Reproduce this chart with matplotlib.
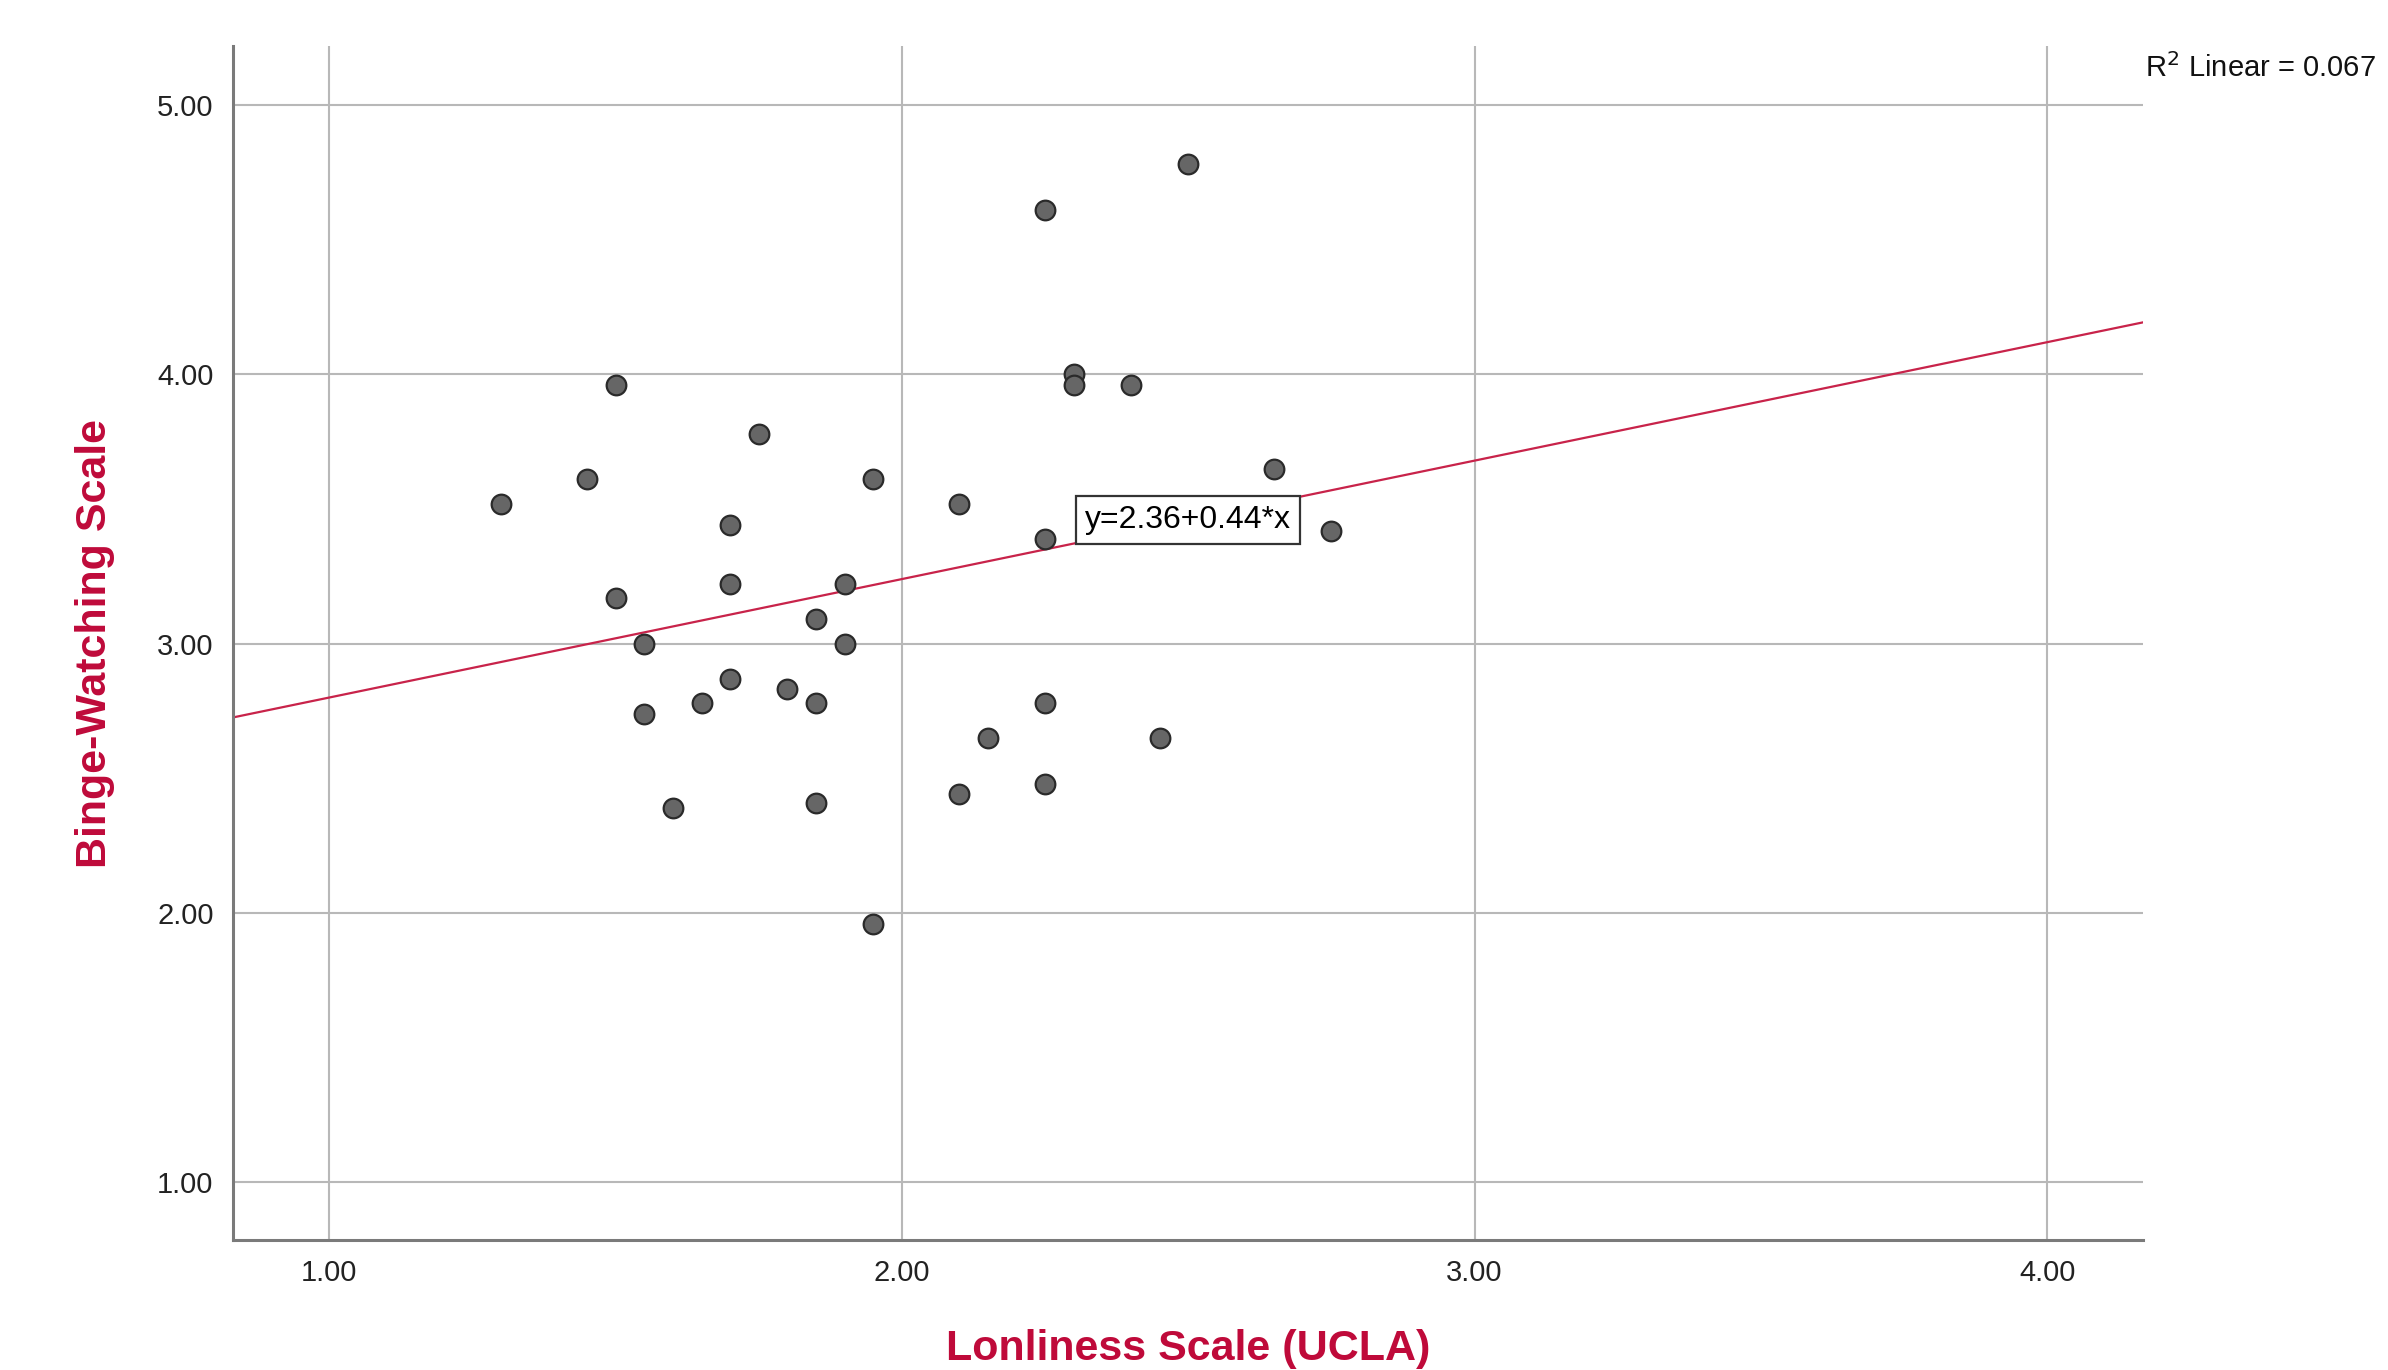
import numpy as np
import matplotlib.pyplot as plt

plt.rcParams['font.family'] = ['Liberation Sans', 'DejaVu Sans']

# UCLA loneliness score vs binge-watching score
loneliness = [1.30, 1.45, 1.50, 1.50, 1.55, 1.55, 1.60, 1.65, 1.70, 1.70,
              1.70, 1.75, 1.80, 1.85, 1.85, 1.85, 1.90, 1.90, 1.95, 1.95,
              2.10, 2.10, 2.15, 2.25, 2.25, 2.25, 2.25, 2.30, 2.30, 2.40,
              2.45, 2.50, 2.65, 2.75]
binge = [3.52, 3.61, 3.96, 3.17, 3.00, 2.74, 2.39, 2.78, 3.44, 3.22,
         2.87, 3.78, 2.83, 3.09, 2.78, 2.41, 3.22, 3.00, 3.61, 1.96,
         3.52, 2.44, 2.65, 4.61, 3.39, 2.78, 2.48, 4.00, 3.96, 3.96,
         2.65, 4.78, 3.65, 3.42]

# fit line as reported
intercept = 2.36
slope = 0.44
r2_linear = 0.067

x_ticks = [1.0, 2.0, 3.0, 4.0]
y_ticks = [1.0, 2.0, 3.0, 4.0, 5.0]
x_lim = (0.832, 4.168)
y_lim = (0.785, 5.22)

label_color = '#BF0A3A'

fig = plt.figure(figsize=(23.88, 13.70), dpi=100)
ax = fig.add_axes([0.0976, 0.0949, 0.800, 0.8715])

ax.set_xlim(*x_lim)
ax.set_ylim(*y_lim)
ax.set_xticks(x_ticks)
ax.set_yticks(y_ticks)
ax.set_xticklabels([f"{v:.2f}" for v in x_ticks])
ax.set_yticklabels([f"{v:.2f}" for v in y_ticks])
ax.tick_params(length=0, labelsize=21, colors='#222222', pad=14)

ax.grid(True, color='#B8B8B8', linewidth=1.5, zorder=0)
ax.set_axisbelow(True)

for side in ['top', 'right']:
    ax.spines[side].set_visible(False)
for side in ['left', 'bottom']:
    ax.spines[side].set_color('#7A7A7A')
    ax.spines[side].set_linewidth(2.2)

# regression line across the full x range
xs = np.array(x_lim)
ax.plot(xs, intercept + slope * xs, color='#C8234A', linewidth=1.6, zorder=2)

ax.scatter(loneliness, binge, s=200, color='#666666', edgecolor='#2A2A2A',
           linewidth=1.6, zorder=3)

x_mid = 2.5
ax.text(x_mid, intercept + slope * x_mid, f"y={intercept:.2f}+{slope:.2f}*x",
        fontsize=23, ha='center', va='center', zorder=4,
        bbox=dict(boxstyle='square,pad=0.28', facecolor='white',
                  edgecolor='#333333', linewidth=1.6))

ax.set_xlabel("Lonliness Scale (UCLA)", fontsize=31, fontweight='bold',
              color=label_color, labelpad=30)
ax.set_ylabel("Binge-Watching Scale", fontsize=31, fontweight='bold',
              color=label_color, labelpad=30)

fig.text(2145 / 2388, 1 - 68 / 1370, f"R$^2$ Linear = {r2_linear:.3f}",
         fontsize=21, ha='left', va='center', color='#111111')

fig.savefig("out.png", dpi=100)
